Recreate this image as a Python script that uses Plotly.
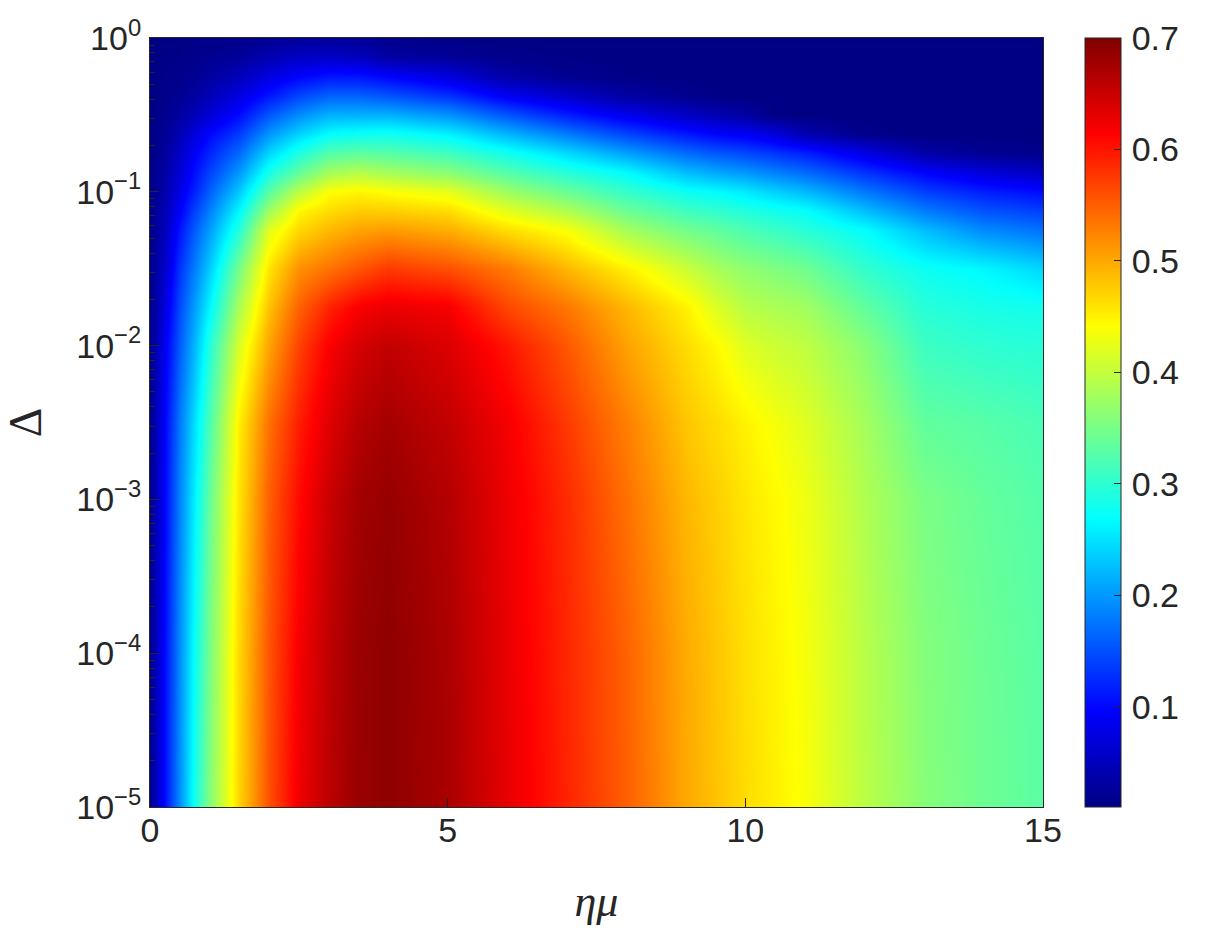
import math
import plotly.graph_objects as go

# eta*mu grid (columns)
eta_mu = [0, 0.25, 0.5, 0.75, 1, 1.5, 2, 2.5, 3, 3.5, 4, 5, 6, 7, 8, 8.5, 9, 9.5, 10, 10.5,
          11, 12, 13, 14, 15]
# log10(Delta) grid (rows, bottom to top)
log_delta = [-5, -4, -3, -2.5, -2, -1.75, -1.5, -1.25, -1.125, -1, -0.875, -0.75,
             -0.625, -0.5, -0.375, -0.25, -0.125, 0]

# values, one list per eta*mu column (bottom -> top)
col_0_00 = [0.015, 0.015, 0.015, 0.015, 0.015, 0.014, 0.014, 0.013, 0.013, 0.012, 0.012, 0.011, 0.011, 0.010, 0.010, 0.010, 0.010, 0.010]
col_0_25 = [0.105, 0.104, 0.100, 0.098, 0.088, 0.075, 0.061, 0.051, 0.045, 0.040, 0.033, 0.028, 0.022, 0.018, 0.015, 0.013, 0.011, 0.010]
col_0_50 = [0.195, 0.193, 0.187, 0.180, 0.160, 0.148, 0.132, 0.110, 0.095, 0.080, 0.068, 0.058, 0.044, 0.030, 0.021, 0.016, 0.013, 0.011]
col_0_75 = [0.284, 0.277, 0.262, 0.250, 0.222, 0.205, 0.183, 0.160, 0.142, 0.121, 0.107, 0.093, 0.072, 0.049, 0.031, 0.021, 0.015, 0.012]
col_1_0 = [0.360, 0.352, 0.340, 0.322, 0.295, 0.265, 0.237, 0.204, 0.184, 0.162, 0.142, 0.122, 0.100, 0.068, 0.046, 0.030, 0.019, 0.013]
col_1_5 = [0.470, 0.468, 0.460, 0.452, 0.416, 0.384, 0.350, 0.294, 0.266, 0.233, 0.200, 0.168, 0.136, 0.103, 0.075, 0.048, 0.025, 0.015]
col_2_0 = [0.560, 0.558, 0.550, 0.538, 0.504, 0.483, 0.459, 0.422, 0.376, 0.330, 0.285, 0.241, 0.198, 0.155, 0.111, 0.075, 0.042, 0.018]
col_2_5 = [0.625, 0.620, 0.608, 0.595, 0.570, 0.548, 0.517, 0.468, 0.447, 0.397, 0.337, 0.289, 0.240, 0.192, 0.144, 0.096, 0.055, 0.025]
col_3_0 = [0.660, 0.658, 0.650, 0.635, 0.617, 0.590, 0.537, 0.489, 0.465, 0.441, 0.381, 0.325, 0.270, 0.217, 0.163, 0.109, 0.057, 0.025]
col_3_5 = [0.683, 0.682, 0.676, 0.663, 0.642, 0.617, 0.557, 0.503, 0.476, 0.448, 0.393, 0.332, 0.276, 0.217, 0.163, 0.108, 0.051, 0.020]
col_4 = [0.690, 0.690, 0.685, 0.675, 0.655, 0.627, 0.576, 0.509, 0.475, 0.441, 0.381, 0.328, 0.279, 0.217, 0.154, 0.096, 0.032, 0.015]
col_5 = [0.672, 0.670, 0.665, 0.655, 0.638, 0.620, 0.561, 0.496, 0.465, 0.426, 0.363, 0.312, 0.261, 0.196, 0.130, 0.071, 0.025, 0.010]
col_6 = [0.630, 0.628, 0.625, 0.620, 0.600, 0.566, 0.532, 0.464, 0.423, 0.375, 0.327, 0.280, 0.219, 0.154, 0.089, 0.034, 0.015, 0.010]
col_7 = [0.590, 0.588, 0.585, 0.575, 0.555, 0.533, 0.490, 0.437, 0.388, 0.341, 0.296, 0.244, 0.180, 0.116, 0.059, 0.018, 0.012, 0.010]
col_8 = [0.550, 0.548, 0.538, 0.528, 0.505, 0.490, 0.452, 0.381, 0.342, 0.305, 0.270, 0.205, 0.143, 0.084, 0.031, 0.012, 0.010, 0.010]
col_8_5 = [0.525, 0.523, 0.514, 0.504, 0.485, 0.470, 0.430, 0.363, 0.328, 0.292, 0.247, 0.187, 0.127, 0.070, 0.025, 0.011, 0.010, 0.010]
col_9 = [0.500, 0.498, 0.490, 0.480, 0.465, 0.450, 0.406, 0.347, 0.312, 0.277, 0.226, 0.169, 0.112, 0.056, 0.018, 0.010, 0.010, 0.010]
col_9_5 = [0.482, 0.480, 0.474, 0.465, 0.445, 0.418, 0.382, 0.335, 0.302, 0.269, 0.212, 0.155, 0.097, 0.043, 0.012, 0.010, 0.010, 0.010]
col_10 = [0.465, 0.463, 0.458, 0.450, 0.420, 0.393, 0.367, 0.320, 0.292, 0.256, 0.200, 0.145, 0.089, 0.030, 0.010, 0.010, 0.010, 0.010]
col_10_5 = [0.451, 0.449, 0.445, 0.435, 0.407, 0.385, 0.356, 0.308, 0.281, 0.239, 0.185, 0.131, 0.071, 0.012, 0.010, 0.010, 0.010, 0.010]
col_11 = [0.437, 0.435, 0.430, 0.420, 0.398, 0.378, 0.345, 0.296, 0.272, 0.223, 0.170, 0.117, 0.041, 0.010, 0.010, 0.010, 0.010, 0.010]
col_12 = [0.395, 0.393, 0.388, 0.380, 0.362, 0.335, 0.303, 0.270, 0.226, 0.179, 0.132, 0.078, 0.015, 0.010, 0.010, 0.010, 0.010, 0.010]
col_13 = [0.360, 0.358, 0.352, 0.335, 0.310, 0.295, 0.277, 0.225, 0.181, 0.140, 0.098, 0.035, 0.010, 0.010, 0.010, 0.010, 0.010, 0.010]
col_14 = [0.343, 0.342, 0.337, 0.328, 0.300, 0.285, 0.265, 0.190, 0.153, 0.117, 0.072, 0.020, 0.010, 0.010, 0.010, 0.010, 0.010, 0.010]
col_15 = [0.330, 0.329, 0.325, 0.318, 0.295, 0.280, 0.242, 0.173, 0.139, 0.104, 0.054, 0.015, 0.010, 0.010, 0.010, 0.010, 0.010, 0.010]

columns = [col_0_00, col_0_25, col_0_50, col_0_75, col_1_0, col_1_5, col_2_0, col_2_5,
           col_3_0, col_3_5, col_4, col_5, col_6, col_7, col_8, col_8_5, col_9, col_9_5,
           col_10, col_10_5, col_11, col_12, col_13, col_14, col_15]

# z[row][col]
z = [[columns[j][i] for j in range(len(eta_mu))] for i in range(len(log_delta))]

x_ticks = [0, 5, 10, 15]
y_tick_exps = [-5, -4, -3, -2, -1, 0]
y_tick_text = ["10<sup>%s</sup>" % str(e).replace("-", "\u2212") for e in y_tick_exps]
cbar_ticks = [0.1, 0.2, 0.3, 0.4, 0.5, 0.6, 0.7]
cbar_text = ["\u200a" + t for t in ["0.1", "0.2", "0.3", "0.4", "0.5", "0.6", "0.7"]]
minor_y = [e + math.log10(k) for e in range(-5, 0) for k in range(2, 10)]

jet = [
    [0.0, "rgb(0,0,132)"],
    [0.125, "rgb(0,0,255)"],
    [0.375, "rgb(0,255,255)"],
    [0.625, "rgb(255,255,0)"],
    [0.875, "rgb(255,0,0)"],
    [1.0, "rgb(128,0,0)"],
]

ink = "#262626"
tick_font = dict(family="Liberation Sans, Arial, sans-serif", size=34, color=ink)

fig = go.Figure(
    go.Heatmap(
        x=eta_mu,
        y=log_delta,
        z=z,
        zsmooth="best",
        colorscale=jet,
        zmin=0.01,
        zmax=0.7,
        colorbar=dict(
            x=1.047, xanchor="left", xref="paper",
            y=0.5, yanchor="middle", len=1.0, lenmode="fraction",
            thickness=36, xpad=0, ypad=0,
            outlinewidth=1, outlinecolor=ink,
            tickmode="array", tickvals=cbar_ticks, ticktext=cbar_text,
            ticks="inside", ticklen=7, tickcolor=ink, tickwidth=1,
            tickfont=tick_font,
        ),
    )
)

fig.update_layout(
    width=1212, height=948,
    margin=dict(l=150, r=169, t=38, b=141),
    paper_bgcolor="white", plot_bgcolor="white",
    showlegend=False,
)

fig.update_xaxes(
    range=[0, 15], tickmode="array", tickvals=x_ticks, ticktext=[str(v) for v in x_ticks],
    ticks="inside", ticklen=9, tickcolor=ink, tickwidth=1,
    showline=True, linecolor=ink, linewidth=1, mirror=True,
    showgrid=False, zeroline=False, automargin=False,
    tickfont=tick_font, ticklabelstandoff=-7,
    title=dict(text="<i>ημ</i>", font=dict(family="Liberation Serif, serif", size=44, color=ink), standoff=37),
)
fig.update_yaxes(
    range=[-5, 0], tickmode="array", tickvals=y_tick_exps, ticktext=y_tick_text,
    ticks="inside", ticklen=9, tickcolor=ink, tickwidth=1,
    minor=dict(tickvals=minor_y, ticks="inside", ticklen=5, tickcolor=ink, showgrid=False),
    showline=True, linecolor=ink, linewidth=1, mirror=True,
    showgrid=False, zeroline=False, automargin=False,
    tickfont=tick_font, ticklabelstandoff=1,
    title=dict(text="Δ", font=dict(family="Liberation Serif, serif", size=46, color=ink), standoff=36),
)

fig.write_html("out.html", config={"displayModeBar": False},
               post_script="document.body.style.margin='0';")
